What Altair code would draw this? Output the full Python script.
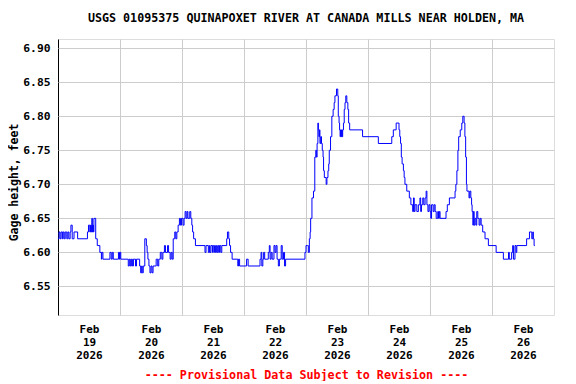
import altair as alt
import pandas as pd

# Hours since 2026-02-19 00:00 and gage height (ft) (step data)
hours = [
    0.0, 0.4, 0.8, 1.2, 1.7, 2.0, 2.4, 2.8, 3.4, 3.8, 4.2, 4.7, 5.0, 5.5, 6.2, 7.6,
    11.4, 11.8, 12.3, 12.6, 12.9, 13.1, 13.3, 13.5, 13.7, 13.9, 14.6, 15.2, 16.2, 16.8, 17.0, 17.4,
    20.1, 20.6, 21.0, 21.4, 23.4, 23.8, 24.0, 24.3,
    27.2, 27.6, 28.0, 28.4, 28.8, 29.2, 30.0, 30.4, 31.6, 32.0, 32.4, 32.6, 33.0,
    33.6, 34.2, 34.5, 34.8, 35.2, 35.6, 36.0, 36.4, 36.8, 38.0, 38.6, 39.0, 39.6,
    40.2, 40.6, 41.2, 41.6, 42.4, 42.8, 43.4, 43.8, 44.2, 44.6, 45.2, 45.6, 46.0,
    46.5, 47.0, 47.4, 47.8, 48.4, 48.8,
    49.2, 49.6, 50.0, 50.3, 51.0, 51.4, 51.8, 52.1, 52.5, 53.2,
    56.9, 57.3, 58.2, 58.6, 58.8, 59.2, 59.8, 60.1, 60.6, 61.0, 61.4, 61.8, 62.2, 62.5, 63.0, 63.4,
    65.3, 65.6, 66.1, 66.4, 66.8, 67.4, 69.6, 69.9, 70.3, 73.0, 73.6,
    78.2, 78.6, 78.9, 79.3, 79.6, 80.0, 81.4, 81.8, 82.1, 82.5, 82.9, 83.6, 84.0, 84.4, 84.8,
    85.3, 85.7, 86.4, 86.8, 87.3, 87.7, 88.1,
    95.6, 96.0, 96.6, 96.9, 97.3, 97.6, 97.8, 98.3, 98.9, 99.4, 99.8, 100.0, 100.3, 100.6, 100.8,
    101.0, 101.2, 101.4, 101.7, 102.0, 102.3, 102.6, 102.8, 103.1, 103.8, 104.1, 104.5, 104.8,
    105.0, 105.5, 106.0, 106.5, 106.9, 107.2, 107.8, 108.3, 108.5, 108.8, 109.0, 109.2, 109.4,
    109.6, 109.8, 110.0, 110.2, 110.5, 110.8, 111.1, 111.4, 111.8, 112.2, 112.5, 112.9,
    117.9, 124.0, 129.2, 129.8, 130.9, 132.0, 132.3, 132.6, 132.9, 133.2, 133.7, 134.0, 134.3,
    135.0, 136.0, 136.6, 137.3, 137.6, 137.9, 138.2, 138.9, 139.5,
    140.1, 140.4, 140.7, 141.2, 141.6, 142.1, 142.5, 142.8, 143.2, 143.6, 144.0, 144.3, 144.6,
    145.2, 145.6, 146.0, 146.4, 147.0, 147.3, 147.6, 147.9, 150.2, 150.7, 151.5,
    153.7, 154.0, 154.4, 154.8, 155.1, 155.7, 156.3, 156.7, 157.2, 157.5, 157.8, 158.1, 158.3,
    159.1, 159.4, 159.8, 160.1, 160.3, 160.6, 160.8, 161.1, 161.4, 161.8, 162.1, 162.5, 163.0,
    163.4, 163.8, 164.4, 165.3, 166.6, 169.6, 172.4, 174.4, 174.7, 175.6, 176.0, 176.3, 176.9,
    177.3, 177.6, 181.4, 182.5, 183.4, 183.8, 184.0, 184.3, 184.6,
]
values = [
    6.62, 6.63, 6.62, 6.63, 6.62, 6.63, 6.62, 6.63, 6.62, 6.63, 6.62, 6.63, 6.64, 6.62, 6.63, 6.62,
    6.63, 6.64, 6.63, 6.64, 6.63, 6.65, 6.63, 6.64, 6.63, 6.65, 6.62, 6.61, 6.60, 6.59, 6.60, 6.59,
    6.60, 6.59, 6.60, 6.59, 6.60, 6.59, 6.60, 6.59,
    6.58, 6.59, 6.58, 6.59, 6.58, 6.59, 6.58, 6.59, 6.58, 6.57, 6.58, 6.57, 6.58,
    6.62, 6.61, 6.60, 6.59, 6.58, 6.57, 6.58, 6.57, 6.58, 6.59, 6.58, 6.59, 6.60,
    6.59, 6.60, 6.61, 6.60, 6.61, 6.60, 6.59, 6.60, 6.59, 6.62, 6.63, 6.62, 6.63,
    6.64, 6.65, 6.64, 6.65, 6.64, 6.65,
    6.66, 6.65, 6.66, 6.65, 6.66, 6.65, 6.64, 6.63, 6.62, 6.61,
    6.60, 6.61, 6.60, 6.61, 6.60, 6.61, 6.60, 6.61, 6.60, 6.61, 6.60, 6.61, 6.60, 6.61, 6.60, 6.61,
    6.62, 6.63, 6.62, 6.61, 6.60, 6.59, 6.58, 6.59, 6.58, 6.59, 6.58,
    6.59, 6.60, 6.58, 6.59, 6.60, 6.59, 6.60, 6.61, 6.59, 6.60, 6.59, 6.61, 6.60, 6.61, 6.59,
    6.58, 6.59, 6.61, 6.59, 6.60, 6.58, 6.59,
    6.60, 6.61, 6.61, 6.60, 6.62, 6.63, 6.65, 6.68, 6.69, 6.74, 6.75, 6.74, 6.76, 6.79, 6.78,
    6.77, 6.78, 6.76, 6.77, 6.76, 6.75, 6.74, 6.72, 6.71, 6.70, 6.71, 6.72, 6.73,
    6.75, 6.77, 6.80, 6.81, 6.82, 6.83, 6.84, 6.83, 6.80, 6.79, 6.78, 6.77, 6.78,
    6.77, 6.78, 6.77, 6.78, 6.79, 6.81, 6.82, 6.83, 6.82, 6.81, 6.79, 6.78,
    6.77, 6.76, 6.77, 6.78, 6.79, 6.78, 6.77, 6.76, 6.74, 6.73, 6.72, 6.71, 6.70,
    6.69, 6.68, 6.67, 6.66, 6.68, 6.66, 6.67, 6.66, 6.67,
    6.68, 6.66, 6.67, 6.68, 6.67, 6.68, 6.69, 6.67, 6.66, 6.67, 6.66, 6.65, 6.67,
    6.66, 6.67, 6.66, 6.65, 6.66, 6.65, 6.66, 6.65, 6.66, 6.67, 6.68,
    6.69, 6.70, 6.72, 6.75, 6.77, 6.78, 6.79, 6.80, 6.79, 6.77, 6.74, 6.70, 6.69,
    6.68, 6.69, 6.68, 6.67, 6.66, 6.64, 6.66, 6.64, 6.65, 6.64, 6.66, 6.65, 6.64,
    6.65, 6.64, 6.63, 6.62, 6.61, 6.60, 6.59, 6.60, 6.59, 6.60, 6.61, 6.59, 6.61,
    6.60, 6.61, 6.62, 6.63, 6.62, 6.63, 6.62, 6.61, 6.61,
]

y_ticks = [6.55, 6.60, 6.65, 6.70, 6.75, 6.80, 6.85, 6.90]
day_ticks = [0, 24, 48, 72, 96, 120, 144, 168]
chart_title = "USGS 01095375 QUINAPOXET RIVER AT CANADA MILLS NEAR HOLDEN, MA"
footer = "---- Provisional Data Subject to Revision ----"
y_title = "Gage height, feet"

df = pd.DataFrame({"hour": hours, "gage": values})

FONT = "DejaVu Sans Mono"

chart = (
    alt.Chart(df)
    .mark_line(interpolate="step-after", color="#0000ff", strokeWidth=1, clip=True)
    .encode(
        x=alt.X(
            "hour:Q",
            scale=alt.Scale(domain=[0, 192], nice=False, zero=False),
            axis=alt.Axis(
                values=day_ticks,
                grid=True,
                gridColor={"condition": {"test": "datum.value === 0", "value": "black"}, "value": "#cccccc"},
                gridWidth=1,
                ticks=False,
                domain=False,
                labelExpr="['Feb', '' + (19 + datum.value / 24), '2026']",
                labelOffset=31,
                labelPadding=8,
                labelLineHeight=13,
                labelFont=FONT,
                labelFontWeight="bold",
                labelFontSize=11,
                labelColor="black",
                labelBound=False,
                labelFlush=False,
                labelOverlap=False,
                title=footer,
                titleColor="#ff0000",
                titleFont=FONT,
                titleFontWeight="bold",
                titleFontSize=11.7,
                titlePadding=9,
            ),
        ),
        y=alt.Y(
            "gage:Q",
            scale=alt.Scale(domain=[6.508, 6.9135], nice=False, zero=False),
            axis=alt.Axis(
                values=y_ticks,
                format=".2f",
                grid=True,
                gridColor="#cccccc",
                gridWidth=1,
                ticks=False,
                domain=False,
                labelPadding=8,
                labelFont=FONT,
                labelFontWeight="bold",
                labelFontSize=11.3,
                labelColor="black",
                title=y_title,
                titleFont=FONT,
                titleFontWeight="bold",
                titleFontSize=11.5,
                titleColor="black",
                titlePadding=3,
                titleY=143,
            ),
        ),
    )
    .properties(
        width=496,
        height=276,
        title=alt.TitleParams(
            text=chart_title,
            font=FONT,
            fontSize=11.7,
            fontWeight="bold",
            color="black",
            anchor="middle",
            offset=14,
        ),
        padding={"left": 50, "top": 31, "right": 10, "bottom": 66},
        autosize="none",
    )
    .configure_view(stroke="black", strokeWidth=1)
    .configure(background="white")
)

chart.save("out.html", embed_options={"renderer": "svg", "actions": False})
